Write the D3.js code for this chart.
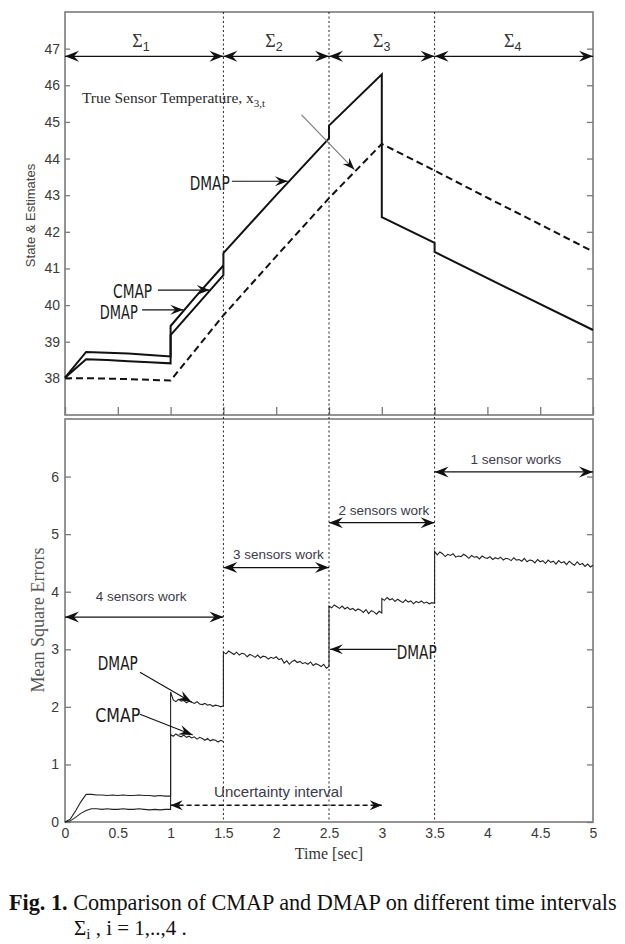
<!DOCTYPE html>
<html><head><meta charset="utf-8">
<script src="https://cdn.jsdelivr.net/npm/d3@7"></script>
<style>body{margin:0;background:#fff}svg{display:block}</style>
</head><body>
<svg id="c" width="625" height="944"></svg>
<script>
// ---------------- DATA ----------------
const timeTicks = [0, 0.5, 1, 1.5, 2, 2.5, 3, 3.5, 4, 4.5, 5];
const timeTickLabels = ["0", "0.5", "1", "1.5", "2", "2.5", "3", "3.5", "4", "4.5", "5"];
const stateTicks = [38, 39, 40, 41, 42, 43, 44, 45, 46, 47];
const mseTicks = [0, 1, 2, 3, 4, 5, 6];
const intervalBounds = [0, 1.5, 2.5, 3.5, 5];
const sigmaIndex = ["1", "2", "3", "4"];
const sensorLabels = ["4 sensors work", "3 sensors work", "2 sensors work", "1 sensor works"];
const sensorArrowLevel = [3.56, 4.42, 5.2, 6.08];

// Top panel: true sensor temperature (dashed)
const trueTemp = [[0, 38.0], [0.3, 38.0], [0.6, 37.98], [1.0, 37.94], [1.5, 39.72], [2.0, 41.33], [2.5, 42.92],
  [3.0, 44.40], [3.5, 43.67], [4.0, 42.93], [4.5, 42.2], [5.0, 41.46]];
// Top panel: CMAP estimate
const cmapState = [[0, 38.02], [0.2, 38.72], [0.4, 38.70], [0.6, 38.68], [0.8, 38.64], [1.0, 38.60],
  [1.0, 39.43], [1.25, 40.27], [1.5, 41.08]];
// Top panel: DMAP estimate
const dmapState = [[0, 38.02], [0.2, 38.52], [0.4, 38.50], [0.6, 38.47], [0.8, 38.44], [1.0, 38.41],
  [1.0, 39.18], [1.25, 40.0], [1.5, 40.82], [1.5, 41.42], [2.0, 43.0], [2.5, 44.55], [2.5, 44.9],
  [3.0, 46.3], [3.0, 42.4], [3.5, 41.7], [3.5, 41.45], [4.25, 40.38], [5.0, 39.32]];

// Bottom panel: DMAP mean square error
const dmapMse1 = [[0, 0], [0.05, 0.05], [0.1, 0.19], [0.15, 0.35], [0.2, 0.48], [0.25, 0.48], [0.3, 0.47], [0.35, 0.47],
  [0.4, 0.46], [0.45, 0.47], [0.5, 0.46], [0.55, 0.47], [0.6, 0.46], [0.65, 0.46], [0.7, 0.47], [0.75, 0.46],
  [0.8, 0.46], [0.85, 0.45], [0.9, 0.46], [0.95, 0.45], [1.0, 0.45]];
const dmapMse2 = [[1.0, 2.26], [1.025, 2.12], [1.05, 2.09], [1.075, 2.13], [1.1, 2.10], [1.125, 2.11], [1.15, 2.07],
  [1.175, 2.10], [1.2, 2.08], [1.225, 2.06], [1.25, 2.09], [1.275, 2.05], [1.3, 2.04], [1.325, 2.06], [1.35, 2.03],
  [1.375, 2.04], [1.4, 2.01], [1.425, 2.03], [1.45, 2.02], [1.475, 2.00], [1.5, 2.02]];
const dmapMse3 = [[1.5, 2.95], [1.525, 2.92], [1.55, 2.97], [1.575, 2.94], [1.6, 2.91], [1.625, 2.95], [1.65, 2.90],
  [1.675, 2.93], [1.7, 2.92], [1.725, 2.87], [1.75, 2.91], [1.775, 2.89], [1.8, 2.86], [1.825, 2.90], [1.85, 2.85],
  [1.875, 2.88], [1.9, 2.87], [1.925, 2.83], [1.95, 2.86], [1.975, 2.84], [2.0, 2.87], [2.025, 2.82], [2.05, 2.84],
  [2.075, 2.76], [2.1, 2.80], [2.125, 2.74], [2.15, 2.79], [2.175, 2.81], [2.2, 2.77], [2.225, 2.79], [2.25, 2.75],
  [2.275, 2.77], [2.3, 2.74], [2.325, 2.78], [2.35, 2.72], [2.375, 2.75], [2.4, 2.73], [2.425, 2.70], [2.45, 2.74],
  [2.475, 2.67], [2.5, 2.70]];
const dmapMse4 = [[2.5, 3.75], [2.525, 3.72], [2.55, 3.77], [2.575, 3.74], [2.6, 3.71], [2.625, 3.75], [2.65, 3.70],
  [2.675, 3.73], [2.7, 3.69], [2.725, 3.71], [2.75, 3.67], [2.775, 3.70], [2.8, 3.68], [2.825, 3.64], [2.85, 3.69],
  [2.875, 3.62], [2.9, 3.67], [2.925, 3.65], [2.95, 3.61], [2.975, 3.66], [3.0, 3.63]];
const dmapMse5 = [[3.0, 3.88], [3.025, 3.85], [3.05, 3.90], [3.075, 3.86], [3.1, 3.88], [3.125, 3.83], [3.15, 3.87],
  [3.175, 3.84], [3.2, 3.81], [3.225, 3.86], [3.25, 3.82], [3.275, 3.84], [3.3, 3.79], [3.325, 3.83], [3.35, 3.81],
  [3.375, 3.84], [3.4, 3.80], [3.425, 3.82], [3.45, 3.79], [3.475, 3.81], [3.5, 3.80]];
const dmapMse6 = [[3.5, 4.70], [3.525, 4.64], [3.55, 4.69], [3.575, 4.66], [3.6, 4.61], [3.625, 4.65], [3.65, 4.63],
  [3.675, 4.66], [3.7, 4.60], [3.725, 4.62], [3.75, 4.61], [3.775, 4.65], [3.8, 4.62], [3.825, 4.58], [3.85, 4.63],
  [3.875, 4.60], [3.9, 4.61], [3.925, 4.57], [3.95, 4.62], [3.975, 4.59], [4.0, 4.58], [4.025, 4.61], [4.05, 4.56],
  [4.075, 4.59], [4.1, 4.57], [4.125, 4.60], [4.15, 4.55], [4.175, 4.58], [4.2, 4.57], [4.225, 4.54], [4.25, 4.59],
  [4.275, 4.55], [4.3, 4.56], [4.325, 4.53], [4.35, 4.58], [4.375, 4.52], [4.4, 4.55], [4.425, 4.54], [4.45, 4.50],
  [4.475, 4.56], [4.5, 4.52], [4.525, 4.54], [4.55, 4.49], [4.575, 4.55], [4.6, 4.51], [4.625, 4.53], [4.65, 4.48],
  [4.675, 4.54], [4.7, 4.50], [4.725, 4.52], [4.75, 4.47], [4.775, 4.53], [4.8, 4.49], [4.825, 4.46], [4.85, 4.52],
  [4.875, 4.47], [4.9, 4.49], [4.925, 4.44], [4.95, 4.48], [4.975, 4.43], [5.0, 4.46]];
// Bottom panel: CMAP mean square error
const cmapMse1 = [[0, 0], [0.05, 0.02], [0.1, 0.08], [0.15, 0.15], [0.2, 0.2], [0.25, 0.23], [0.3, 0.23], [0.35, 0.22],
  [0.4, 0.23], [0.45, 0.22], [0.5, 0.22], [0.55, 0.23], [0.6, 0.22], [0.65, 0.22], [0.7, 0.23], [0.75, 0.22],
  [0.8, 0.21], [0.85, 0.22], [0.9, 0.21], [0.95, 0.22], [1.0, 0.22]];
const cmapMse2 = [[1.0, 1.52], [1.025, 1.49], [1.05, 1.53], [1.075, 1.50], [1.1, 1.48], [1.125, 1.51], [1.15, 1.47],
  [1.175, 1.49], [1.2, 1.46], [1.225, 1.48], [1.25, 1.44], [1.275, 1.47], [1.3, 1.45], [1.325, 1.42], [1.35, 1.45],
  [1.375, 1.41], [1.4, 1.43], [1.425, 1.42], [1.45, 1.39], [1.475, 1.42], [1.5, 1.40]];

// ---------------- DRAWING ----------------
const svg = d3.select("#c");
const SANS = "'Liberation Sans', Arial, sans-serif";
const SERIF = "'Liberation Serif', 'Times New Roman', serif";
const COND = "'DejaVu Sans Condensed', 'DejaVu Sans', sans-serif";
const FRAME = "#7a7a7a";

const x = d3.scaleLinear().domain([0, 5]).range([65, 593]);
const yTop = d3.scaleLinear().domain([37, 48]).range([415, 12]);
const yBot = d3.scaleLinear().domain([0, 7]).range([822, 419]);

svg.append("defs").append("clipPath").attr("id", "lblclip")
  .append("rect").attr("x", 0).attr("y", 0).attr("width", 597).attr("height", 944);

function styleAxis(g) {
  g.select(".domain").remove();
  g.selectAll(".tick line").attr("stroke", FRAME).attr("stroke-width", 1.3);
  g.selectAll(".tick text").attr("font-family", SANS).attr("font-size", 14).attr("fill", "#3a3a3a");
}

// ---- Top panel ----
const topG = svg.append("g");
topG.append("g").attr("transform", `translate(${x(0)},0)`)
  .call(d3.axisLeft(yTop).tickValues(stateTicks).tickSize(-5).tickPadding(5).tickFormat(d3.format("d")))
  .call(styleAxis);
topG.append("g").attr("transform", `translate(${x(5)},0)`)
  .call(d3.axisRight(yTop).tickValues(stateTicks).tickSize(-6).tickFormat(""))
  .call(styleAxis);
topG.append("g").attr("transform", `translate(0,${yTop(37)})`)
  .call(d3.axisBottom(x).tickValues(timeTicks).tickSize(-8).tickFormat(""))
  .call(styleAxis);
topG.append("rect").attr("x", x(0)).attr("y", yTop(48)).attr("width", x(5) - x(0)).attr("height", yTop(37) - yTop(48))
  .attr("fill", "none").attr("stroke", FRAME).attr("stroke-width", 1.6);

// ---- Bottom panel ----
const botG = svg.append("g");
botG.append("g").attr("transform", `translate(${x(0)},0)`)
  .call(d3.axisLeft(yBot).tickValues(mseTicks).tickSize(-6).tickPadding(6).tickFormat(d3.format("d")))
  .call(styleAxis);
botG.append("g").attr("transform", `translate(${x(5)},0)`)
  .call(d3.axisRight(yBot).tickValues(mseTicks).tickSize(-6).tickFormat(""))
  .call(styleAxis);
botG.append("g").attr("transform", `translate(0,${yBot(0)})`).attr("clip-path", "url(#lblclip)")
  .call(d3.axisBottom(x).tickValues(timeTicks).tickSize(-7).tickPadding(6).tickFormat((d, i) => timeTickLabels[i]))
  .call(styleAxis);
botG.append("rect").attr("x", x(0)).attr("y", yBot(7)).attr("width", x(5) - x(0)).attr("height", yBot(0) - yBot(7))
  .attr("fill", "none").attr("stroke", FRAME).attr("stroke-width", 1.6);

// dotted interval separators
svg.append("g").selectAll("line").data(intervalBounds.slice(1, 4)).join("line")
  .attr("x1", d => x(d)).attr("x2", d => x(d)).attr("y1", yTop(48)).attr("y2", yBot(0))
  .attr("stroke", "#222").attr("stroke-width", 1).attr("stroke-dasharray", "2,2.5");

// ---- lines ----
const lineTop = d3.line().x(d => x(d[0])).y(d => yTop(d[1]));
const lineBot = d3.line().x(d => x(d[0])).y(d => yBot(d[1]));
topG.append("path").datum(trueTemp).attr("d", lineTop).attr("fill", "none").attr("stroke", "#111")
  .attr("stroke-width", 2).attr("stroke-dasharray", "7,4");
topG.append("path").datum(cmapState).attr("d", lineTop).attr("fill", "none").attr("stroke", "#111").attr("stroke-width", 2);
topG.append("path").datum(dmapState).attr("d", lineTop).attr("fill", "none").attr("stroke", "#111").attr("stroke-width", 2);

const dmapMse = [].concat(dmapMse1, dmapMse2, dmapMse3, dmapMse4, dmapMse5, dmapMse6);
const cmapMse = [].concat(cmapMse1, cmapMse2);
botG.append("path").datum(cmapMse).attr("d", lineBot).attr("fill", "none").attr("stroke", "#222").attr("stroke-width", 1.1);
botG.append("path").datum(dmapMse).attr("d", lineBot).attr("fill", "none").attr("stroke", "#222").attr("stroke-width", 1.1);

// ---- arrows ----
function head(g, x0, y0, x1, y1, L, W, N, fill) {
  const a = Math.atan2(y1 - y0, x1 - x0) * 180 / Math.PI;
  g.append("path").attr("d", `M0,0L${-L},${-W}L${-N},0L${-L},${W}Z`)
    .attr("transform", `translate(${x1},${y1}) rotate(${a})`).attr("fill", fill);
}
function arrow(g, x0, y0, x1, y1, o) {
  o = Object.assign({ L: 12, W: 5, N: 8, stroke: "#111", sw: 1.2, dash: null, both: false, fill: "#111" }, o || {});
  const ln = g.append("line").attr("x1", x0).attr("y1", y0).attr("x2", x1).attr("y2", y1)
    .attr("stroke", o.stroke).attr("stroke-width", o.sw);
  if (o.dash) ln.attr("stroke-dasharray", o.dash);
  head(g, x0, y0, x1, y1, o.L, o.W, o.N, o.fill);
  if (o.both) head(g, x1, y1, x0, y0, o.L, o.W, o.N, o.fill);
}
const ann = svg.append("g");

// interval arrows with Sigma labels (top)
const sigY = yTop(46.79);
const sigmaX = [0.72, 1.98, 3.0, 4.24];
intervalBounds.slice(0, 4).forEach((b, i) => {
  arrow(ann, x(b), sigY, x(intervalBounds[i + 1]), sigY, { both: true, L: 14, W: 5.5, N: 9, sw: 1.3 });
  const t = ann.append("text").attr("x", x(sigmaX[i])).attr("y", yTop(47.05)).attr("text-anchor", "middle")
    .attr("font-family", SERIF).attr("font-size", 18).attr("fill", "#333");
  t.append("tspan").text("Σ");
  t.append("tspan").attr("dy", 4).attr("font-family", SANS).attr("font-size", 12.5).text(sigmaIndex[i]);
});

// True sensor temperature label
const tst = ann.append("text").attr("x", x(0.16)).attr("y", yTop(45.52)).attr("font-family", SERIF)
  .attr("font-size", 15.5).attr("fill", "#2a2a2a");
tst.append("tspan").text("True Sensor Temperature, x");
tst.append("tspan").attr("dy", 4).attr("font-size", 11).text("3,t");
arrow(ann, x(2.24), yTop(45.19), x(2.74), yTop(43.70), { stroke: "#777", sw: 1.1, L: 12, W: 4.5, N: 8 });

// condensed labels
function condLabel(g, t, yv, ys, txt, w) {
  g.append("text").attr("x", x(t)).attr("y", ys(yv)).attr("dy", "0.36em").attr("text-anchor", "middle")
    .attr("font-family", COND).attr("font-size", 19).attr("fill", "#1a1a1a")
    .attr("textLength", w).attr("lengthAdjust", "spacingAndGlyphs").text(txt);
}
condLabel(ann, 1.37, 43.33, yTop, "DMAP", 40);
arrow(ann, x(1.58), yTop(43.38), x(2.11), yTop(43.38), { L: 13, W: 5, N: 8 });
condLabel(ann, 0.64, 40.38, yTop, "CMAP", 39);
arrow(ann, x(0.88), yTop(40.41), x(1.37), yTop(40.41), { L: 13, W: 5, N: 8 });
condLabel(ann, 0.51, 39.8, yTop, "DMAP", 38);
arrow(ann, x(0.73), yTop(39.87), x(1.12), yTop(39.87), { L: 13, W: 5, N: 8 });

// bottom panel sensor arrows
const sensorX = [0.72, 2.02, 3.02, 4.27];
const sensorTextLevel = [3.93, 4.66, 5.42, 6.31];
intervalBounds.slice(0, 4).forEach((b, i) => {
  arrow(ann, x(b), yBot(sensorArrowLevel[i]), x(intervalBounds[i + 1]), yBot(sensorArrowLevel[i]),
    { both: true, L: 14, W: 5.5, N: 9, sw: 1.3 });
  ann.append("text").attr("x", x(sensorX[i])).attr("y", yBot(sensorTextLevel[i])).attr("dy", "0.36em")
    .attr("text-anchor", "middle").attr("font-family", SANS).attr("font-size", 13.5).attr("fill", "#3b3a4a")
    .text(sensorLabels[i]);
});

condLabel(ann, 0.5, 2.76, yBot, "DMAP", 40);
arrow(ann, x(0.71), yBot(2.6), x(1.2), yBot(2.08), { L: 14, W: 5, N: 9, sw: 1.1 });
condLabel(ann, 0.5, 1.85, yBot, "CMAP", 45);
arrow(ann, x(0.71), yBot(1.87), x(1.21), yBot(1.51), { L: 14, W: 5, N: 9, sw: 1.1 });
condLabel(ann, 3.33, 2.95, yBot, "DMAP", 40);
arrow(ann, x(3.14), yBot(3.0), x(2.51), yBot(3.0), { L: 13, W: 5, N: 8 });

// uncertainty interval
arrow(ann, x(1.0), yBot(0.29), x(3.0), yBot(0.29), { both: true, dash: "5,3", sw: 1.6, L: 12, W: 5, N: 8 });
ann.append("text").attr("x", x(2.02)).attr("y", yBot(0.53)).attr("dy", "0.36em").attr("text-anchor", "middle")
  .attr("font-family", SANS).attr("font-size", 15).attr("fill", "#3b3a4a").text("Uncertainty interval");

// axis titles
svg.append("text").attr("transform", `translate(30,${(yTop(37) + yTop(48)) / 2 + 2}) rotate(-90)`)
  .attr("text-anchor", "middle").attr("dy", "0.36em").attr("font-family", SANS).attr("font-size", 13)
  .attr("fill", "#444").text("State & Estimates");
svg.append("text").attr("transform", `translate(38,${yBot(3.51)}) rotate(-90)`)
  .attr("text-anchor", "middle").attr("dy", "0.36em").attr("font-family", SERIF).attr("font-size", 18)
  .attr("fill", "#555").text("Mean Square Errors");
svg.append("text").attr("x", x(2.5)).attr("y", 853).attr("dy", "0.36em").attr("text-anchor", "middle")
  .attr("font-family", SERIF).attr("font-size", 16).attr("fill", "#333").text("Time [sec]");

// caption
const cap1 = svg.append("text").attr("x", 9).attr("y", 910).attr("font-family", SERIF).attr("font-size", 21).attr("fill", "#111");
cap1.append("tspan").attr("font-weight", "bold").text("Fig. 1.");
cap1.append("tspan").text(" Comparison of CMAP and DMAP on different time intervals");
const w1 = cap1.node().getComputedTextLength();
cap1.attr("font-size", 21 * 608 / w1);
const cap2 = svg.append("text").attr("x", 74).attr("y", 935).attr("font-family", SERIF).attr("font-size", 21).attr("fill", "#111");
cap2.append("tspan").text("Σ");
cap2.append("tspan").attr("dy", 4).attr("font-size", 15).text("i");
cap2.append("tspan").attr("dy", -4).text(" ,   i = 1,..,4 .");
</script>
</body></html>
